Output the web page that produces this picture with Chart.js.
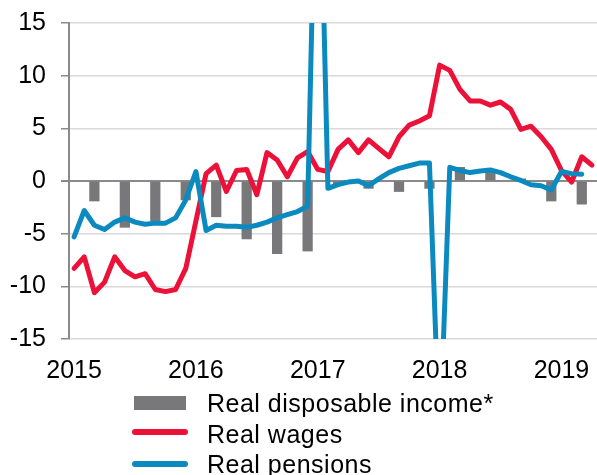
<!DOCTYPE html>
<html>
<head>
<meta charset="utf-8">
<script src="https://cdn.jsdelivr.net/npm/chart.js@4.4.1/dist/chart.umd.min.js"></script>
<style>
  html, body { margin: 0; padding: 0; background: #fff; }
  #wrap { position: relative; width: 597px; height: 475px; font-family: "Liberation Sans", Arial, sans-serif; }
  #legend { position: absolute; left: 0; top: 0; width: 597px; height: 475px; pointer-events: none; }
  .row { position: absolute; left: 132px; height: 30px; line-height: 30px; font-size: 25px; letter-spacing: 0.5px; color: #000; white-space: nowrap; }
  .sw { position: absolute; left: 0; }
  .txt { position: absolute; left: 75px; top: 0; }
</style>
</head>
<body>
<div id="wrap">
  <canvas id="chart"></canvas>
  <div id="legend"></div>
</div>
<script>
const months = [
  'Jan 2015','Feb 2015','Mar 2015','Apr 2015','May 2015','Jun 2015','Jul 2015','Aug 2015','Sep 2015','Oct 2015','Nov 2015','Dec 2015',
  'Jan 2016','Feb 2016','Mar 2016','Apr 2016','May 2016','Jun 2016','Jul 2016','Aug 2016','Sep 2016','Oct 2016','Nov 2016','Dec 2016',
  'Jan 2017','Feb 2017','Mar 2017','Apr 2017','May 2017','Jun 2017','Jul 2017','Aug 2017','Sep 2017','Oct 2017','Nov 2017','Dec 2017',
  'Jan 2018','Feb 2018','Mar 2018','Apr 2018','May 2018','Jun 2018','Jul 2018','Aug 2018','Sep 2018','Oct 2018','Nov 2018','Dec 2018',
  'Jan 2019','Feb 2019','Mar 2019','Apr 2019'
];

// quarterly real disposable income, % y/y
const quarters = ['Mar 2015','Jun 2015','Sep 2015','Dec 2015','Mar 2016','Jun 2016','Sep 2016','Dec 2016',
  'Mar 2017','Jun 2017','Sep 2017','Dec 2017','Mar 2018','Jun 2018','Sep 2018','Dec 2018','Mar 2019'];
const income = [-1.9, -4.4, -3.8, -1.8, -3.4, -5.5, -6.9, -6.65, -0.3, -0.7, -1.0, -0.7, 1.3, 1.1, 0.2, -1.9, -2.2];

// monthly real wages, % y/y
const wages = [
  -8.3, -7.2, -10.6, -9.6, -7.2, -8.5, -9.1, -8.8, -10.3, -10.5, -10.3, -8.3,
  -3.8, 0.7, 1.5, -1.0, 1.0, 1.1, -1.3, 2.7, 2.0, 0.4, 2.2, 2.8,
  1.1, 0.9, 3.0, 3.9, 2.7, 3.9, 3.1, 2.3, 4.2, 5.3, 5.7, 6.2,
  11.0, 10.5, 8.7, 7.6, 7.6, 7.2, 7.5, 6.8, 4.9, 5.2, 4.2, 3.0,
  1.0, -0.1, 2.3, 1.5
];

// monthly real pensions, % y/y
const pensions = [
  -5.3, -2.8, -4.2, -4.6, -3.9, -3.5, -3.9, -4.1, -4.0, -4.0, -3.5, -1.8,
  0.9, -4.7, -4.2, -4.3, -4.3, -4.4, -4.2, -3.9, -3.5, -3.2, -2.9, -2.4,
  40, -0.7, -0.35, -0.1, 0.0, -0.45, 0.2, 0.8, 1.2, 1.45, 1.7, 1.7,
  -25, 1.3, 1.0, 0.8, 0.95, 1.05, 0.8, 0.4, 0.05, -0.35, -0.45, -0.85,
  0.9, 0.7, 0.65
];

const yearTicks = ['2015', '2016', '2017', '2018', '2019'];

const GREY = '#78787b';
const RED = '#ec1139';
const BLUE = '#0b8abf';

Chart.defaults.font.family = '"Liberation Sans", Arial, sans-serif';
Chart.defaults.font.size = 25;
Chart.defaults.color = '#000';

const chart = new Chart(document.getElementById('chart'), {
  type: 'bar',
  data: {
    labels: months,
    datasets: [
      {
        type: 'line',
        label: 'Real pensions',
        data: pensions,
        borderColor: BLUE,
        backgroundColor: BLUE,
        borderWidth: 5,
        pointRadius: 0,
        tension: 0,
        borderJoinStyle: 'round',
        borderCapStyle: 'round',
        order: 0
      },
      {
        type: 'line',
        label: 'Real wages',
        data: wages,
        borderColor: RED,
        backgroundColor: RED,
        borderWidth: 5,
        pointRadius: 0,
        tension: 0,
        borderJoinStyle: 'round',
        borderCapStyle: 'round',
        order: 1
      },
      {
        label: 'Real disposable income*',
        data: quarters.map((q, i) => ({ x: q, y: income[i] })),
        backgroundColor: GREY,
        barThickness: 9.6,
        order: 2
      }
    ]
  },
  options: {
    responsive: true,
    maintainAspectRatio: false,
    animation: false,
    devicePixelRatio: 1,
    layout: { padding: { top: 23, right: 0, left: 0, bottom: 88 } },
    plugins: {
      legend: { display: false },
      tooltip: { enabled: false }
    },
    scales: {
      x: {
        grid: { display: false, drawTicks: false },
        border: { display: false },
        ticks: {
          autoSkip: false,
          maxRotation: 0,
          padding: 17,
          callback: function (value, index) {
            const m = months[index];
            const y = m.slice(4);
            return m.startsWith('Jan') && yearTicks.includes(y) ? y : '';
          }
        },
        afterFit: function (scale) {
          scale.height = 48;
          scale.paddingLeft = 0;
          scale.paddingRight = 0;
        }
      },
      y: {
        min: -15,
        max: 15,
        ticks: { stepSize: 5, padding: 15 },
        grid: {
          color: (ctx) => ctx.tick && ctx.tick.value === 0 ? '#8a8a8a' : '#d9d9d9',
          lineWidth: (ctx) => ctx.tick && ctx.tick.value === 0 ? 2 : 1.5,
          tickColor: '#8a8a8a',
          tickLength: 8
        },
        border: { display: true, color: '#8a8a8a', width: 2 },
        afterFit: function (scale) {
          scale.width = 69;
          scale.paddingTop = 0;
          scale.paddingBottom = 0;
        }
      }
    }
  }
});

// legend stacked under the chart, in the same order as the reference
const legendItems = [
  { text: 'Real disposable income*', color: GREY, kind: 'box', top: 388 },
  { text: 'Real wages', color: RED, kind: 'line', top: 419 },
  { text: 'Real pensions', color: BLUE, kind: 'line', top: 449 }
];
const legend = document.getElementById('legend');
legendItems.forEach(function (item) {
  const row = document.createElement('div');
  row.className = 'row';
  row.style.top = item.top + 'px';
  const sw = document.createElement('div');
  sw.className = 'sw';
  if (item.kind === 'box') {
    sw.style.cssText = 'left:2px;top:8px;width:52px;height:14px;background:' + item.color;
  } else {
    sw.style.cssText = 'left:0;top:' + (item.color === RED ? 10 : 12) +
      'px;width:56px;height:6px;border-radius:3px;background:' + item.color;
  }
  const txt = document.createElement('span');
  txt.className = 'txt';
  txt.textContent = item.text;
  row.appendChild(sw);
  row.appendChild(txt);
  legend.appendChild(row);
});
</script>
</body>
</html>
